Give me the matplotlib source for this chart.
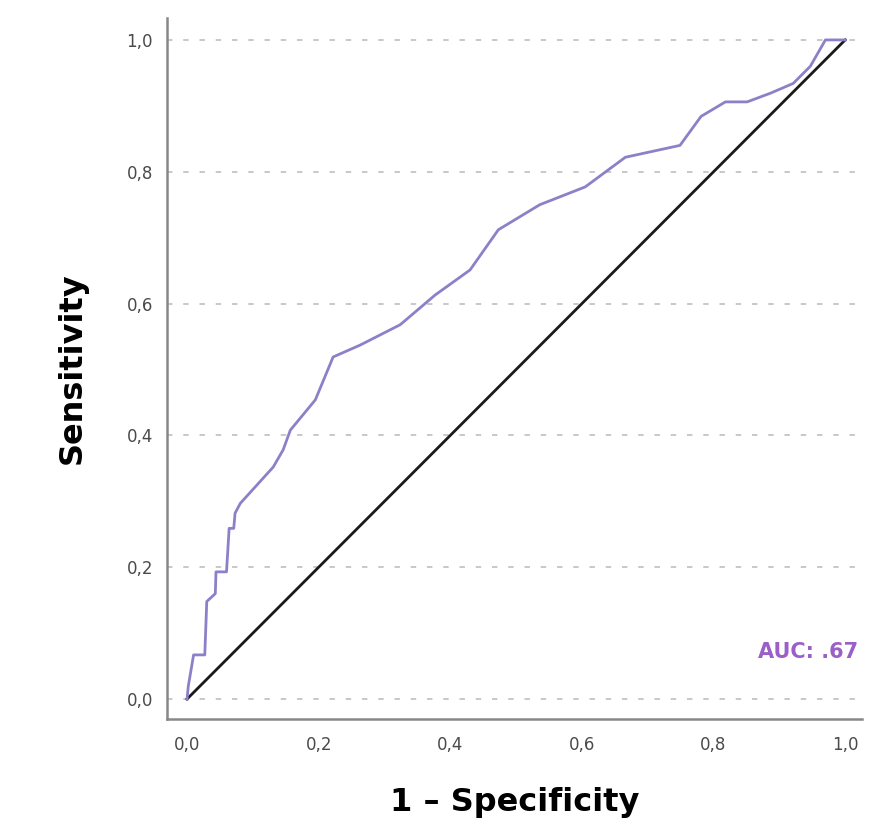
import matplotlib
matplotlib.use("Agg")
import matplotlib.pyplot as plt

# ROC curve points (1 - specificity, sensitivity)
fpr = [0.0, 0.002, 0.010, 0.027, 0.030, 0.043, 0.044, 0.060, 0.064, 0.071,
       0.073, 0.081, 0.131, 0.146, 0.157, 0.195, 0.222, 0.263, 0.324, 0.377,
       0.430, 0.473, 0.536, 0.605, 0.666, 0.749, 0.781, 0.818, 0.851, 0.886,
       0.921, 0.947, 0.970, 0.995, 1.0]
tpr = [0.0, 0.020, 0.067, 0.067, 0.148, 0.160, 0.193, 0.193, 0.259, 0.259,
       0.282, 0.297, 0.352, 0.378, 0.408, 0.454, 0.519, 0.537, 0.568, 0.613,
       0.651, 0.712, 0.750, 0.777, 0.822, 0.840, 0.884, 0.906, 0.906, 0.919,
       0.934, 0.960, 1.0, 1.0, 1.0]
ref_line = [0.0, 1.0]
ticks = [0.0, 0.2, 0.4, 0.6, 0.8, 1.0]
tick_labels = ["0,0", "0,2", "0,4", "0,6", "0,8", "1,0"]
auc_label = "AUC: .67"

fig = plt.figure(figsize=(8.79, 8.26), dpi=100)
ax = fig.add_axes([0.190, 0.1295, 0.791, 0.8485])

for t in ticks:
    ax.axhline(t, color="#c4c4c4", lw=1.3, dashes=(3, 6), zorder=0)

ax.plot(ref_line, ref_line, color="#1a1a1a", lw=2.0, zorder=2)
ax.plot(fpr, tpr, color="#8e80c8", lw=2.0, zorder=3)

ax.set_xlim(-0.0304, 1.026)
ax.set_ylim(-0.0303, 1.033)
ax.set_xticks(ticks)
ax.set_xticklabels(tick_labels)
ax.set_yticks(ticks)
ax.set_yticklabels(tick_labels)
ax.tick_params(length=0, labelsize=12, colors="#4a4a4a")
ax.tick_params(axis="y", pad=10)
ax.tick_params(axis="x", pad=12)

for side in ("top", "right"):
    ax.spines[side].set_visible(False)
for side in ("left", "bottom"):
    ax.spines[side].set_color("#888888")
    ax.spines[side].set_linewidth(1.8)

ax.set_xlabel("1 – Specificity", fontsize=23, fontweight="bold", labelpad=24)
ax.set_ylabel("Sensitivity", fontsize=23, fontweight="bold", labelpad=28)

ax.text(0.994, 0.0956, auc_label, transform=ax.transAxes, ha="right",
        va="center", fontsize=15, fontweight="bold", color="#9b5fc8")

fig.savefig("out.png", dpi=100)
